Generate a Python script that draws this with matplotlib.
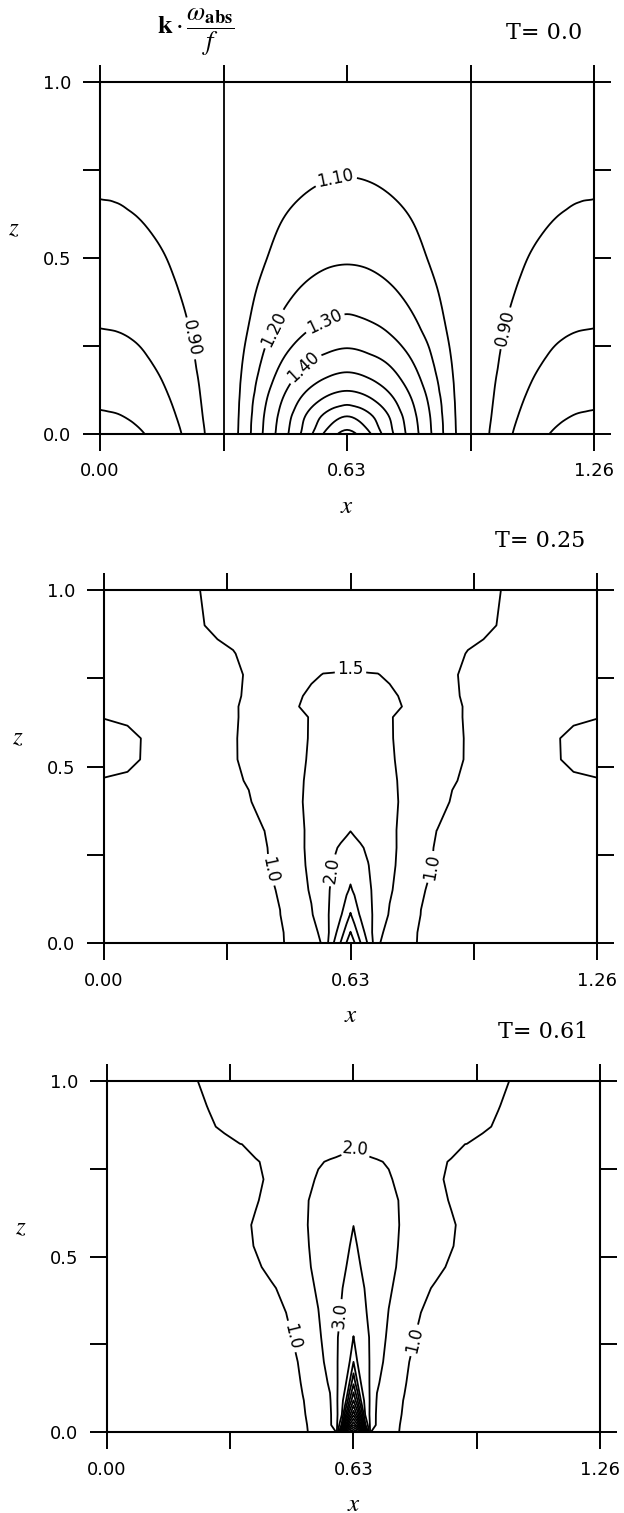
import numpy as np
import matplotlib
matplotlib.use("Agg")
import matplotlib.pyplot as plt
import matplotlib.tri as mtri
from matplotlib.ticker import FixedLocator

plt.rcParams['mathtext.fontset'] = 'stix'
plt.rcParams['font.family'] = ['DejaVu Sans']

# ---------------- data: k*omega_abs/f on half domain (x = 0 ... 0.63), symmetric about x = 0.63
# Panel 1 : T = 0.0
x_t0 = [0.0, 0.0525, 0.105, 0.1575, 0.21, 0.2625, 0.315, 0.3675, 0.42, 0.4725, 0.525, 0.5775, 0.63]
z_t0 = [0.0, 0.05, 0.1, 0.15, 0.2, 0.25, 0.3, 0.4, 0.5, 0.6, 0.7, 0.8, 0.9, 1.0]
f_t0 = [
    [0.660, 0.6685, 0.694, 0.738, 0.803, 0.891, 1.0, 1.146, 1.317, 1.476, 1.642, 1.825, 1.930],
    [0.690, 0.698, 0.721, 0.761, 0.820, 0.901, 1.0, 1.140, 1.306, 1.454, 1.605, 1.728, 1.800],
    [0.716, 0.723, 0.744, 0.781, 0.835, 0.909, 1.0, 1.132, 1.284, 1.416, 1.530, 1.614, 1.651],
    [0.739, 0.746, 0.765, 0.799, 0.849, 0.916, 1.0, 1.122, 1.252, 1.368, 1.457, 1.517, 1.544],
    [0.761, 0.767, 0.785, 0.816, 0.861, 0.924, 1.0, 1.110, 1.222, 1.321, 1.397, 1.438, 1.461],
    [0.780, 0.7855, 0.802, 0.831, 0.872, 0.930, 1.0, 1.097, 1.196, 1.277, 1.336, 1.375, 1.392],
    [0.800, 0.805, 0.820, 0.846, 0.884, 0.936, 1.0, 1.084, 1.167, 1.238, 1.290, 1.320, 1.337],
    [0.836, 0.840, 0.852, 0.874, 0.905, 0.948, 1.0, 1.0655, 1.1265, 1.179, 1.219, 1.244, 1.253],
    [0.863, 0.866, 0.877, 0.895, 0.921, 0.956, 1.0, 1.049, 1.095, 1.134, 1.165, 1.184, 1.190],
    [0.888, 0.891, 0.899, 0.914, 0.935, 0.964, 1.0, 1.039, 1.075, 1.106, 1.130, 1.145, 1.150],
    [0.905, 0.907, 0.9145, 0.927, 0.945, 0.970, 1.0, 1.0285, 1.055, 1.078, 1.095, 1.106, 1.110],
    [0.917, 0.919, 0.925, 0.936, 0.952, 0.973, 1.0, 1.021, 1.040, 1.057, 1.069, 1.077, 1.080],
    [0.924, 0.926, 0.932, 0.9415, 0.956, 0.976, 1.0, 1.017, 1.0325, 1.046, 1.056, 1.063, 1.065],
    [0.927, 0.929, 0.934, 0.944, 0.958, 0.977, 1.0, 1.0155, 1.030, 1.042, 1.052, 1.058, 1.060],
]
levels_t0 = [0.70, 0.80, 0.90, 1.00, 1.10, 1.20, 1.30, 1.40, 1.50, 1.60, 1.70, 1.80, 1.90]

# Panel 2 : T = 0.25
x_t25 = [0.0, 0.06, 0.12, 0.18, 0.24, 0.29, 0.33, 0.37, 0.41, 0.45, 0.49, 0.53, 0.56, 0.585, 0.605, 0.62, 0.63]
z_t25 = [0.0, 0.03, 0.08, 0.15, 0.22, 0.27, 0.32, 0.4, 0.46, 0.52, 0.58, 0.64, 0.67, 0.7, 0.76, 0.82, 0.9, 1.0]
f_t25 = [
    [0.80, 0.82, 0.84, 0.86, 0.88, 0.895, 0.91, 0.93, 0.94, 0.95, 1.144, 1.30, 1.55, 2.44, 3.03, 3.53, 3.80],
    [0.80, 0.82, 0.84, 0.86, 0.88, 0.895, 0.91, 0.93, 0.94, 0.95, 1.172, 1.35, 1.62, 2.266, 2.777, 3.21, 3.52],
    [0.80, 0.82, 0.84, 0.86, 0.88, 0.895, 0.91, 0.93, 0.96, 0.995, 1.23, 1.46, 1.80, 2.15, 2.45, 2.785, 3.04],
    [0.80, 0.82, 0.84, 0.86, 0.88, 0.895, 0.91, 0.94, 0.95, 1.02, 1.294, 1.548, 1.837, 2.08, 2.278, 2.427, 2.56],
    [0.80, 0.82, 0.84, 0.86, 0.88, 0.895, 0.91, 0.94, 0.95, 1.13, 1.348, 1.592, 1.823, 2.013, 2.14, 2.236, 2.30],
    [0.80, 0.82, 0.84, 0.86, 0.88, 0.895, 0.915, 0.945, 0.96, 1.163, 1.374, 1.60, 1.788, 1.944, 2.041, 2.097, 2.135],
    [0.80, 0.82, 0.84, 0.86, 0.88, 0.90, 0.93, 0.96, 1.001, 1.203, 1.40, 1.578, 1.70, 1.805, 1.887, 1.949, 1.99],
    [0.80, 0.82, 0.84, 0.86, 0.88, 0.90, 0.93, 0.975, 1.119, 1.278, 1.437, 1.578, 1.676, 1.758, 1.823, 1.872, 1.905],
    [0.99, 0.975, 0.93, 0.93, 0.94, 0.95, 0.96, 1.02, 1.172, 1.305, 1.437, 1.559, 1.643, 1.714, 1.77, 1.812, 1.84],
    [1.06, 1.035, 0.97, 0.95, 0.955, 0.962, 0.97, 1.078, 1.195, 1.311, 1.427, 1.536, 1.608, 1.668, 1.716, 1.752, 1.776],
    [1.06, 1.037, 0.972, 0.95, 0.955, 0.96, 0.97, 1.084, 1.197, 1.309, 1.421, 1.523, 1.58, 1.627, 1.665, 1.693, 1.712],
    [0.995, 0.975, 0.93, 0.92, 0.93, 0.945, 0.96, 1.076, 1.193, 1.31, 1.427, 1.519, 1.558, 1.59, 1.616, 1.635, 1.648],
    [0.90, 0.91, 0.92, 0.93, 0.94, 0.95, 0.965, 1.068, 1.203, 1.338, 1.473, 1.60, 1.605, 1.61, 1.613, 1.615, 1.616],
    [0.90, 0.91, 0.92, 0.93, 0.94, 0.95, 0.95, 1.046, 1.178, 1.309, 1.441, 1.57, 1.575, 1.578, 1.58, 1.582, 1.583],
    [0.90, 0.91, 0.92, 0.93, 0.94, 0.95, 0.955, 1.026, 1.132, 1.237, 1.342, 1.447, 1.51, 1.513, 1.516, 1.518, 1.52],
    [0.90, 0.91, 0.92, 0.935, 0.95, 0.97, 0.99, 1.053, 1.114, 1.175, 1.236, 1.297, 1.343, 1.381, 1.412, 1.435, 1.45],
    [0.90, 0.92, 0.94, 0.96, 0.985, 1.029, 1.07, 1.112, 1.153, 1.194, 1.236, 1.277, 1.308, 1.334, 1.354, 1.37, 1.38],
    [0.90, 0.92, 0.94, 0.96, 0.995, 1.04, 1.074, 1.108, 1.142, 1.177, 1.211, 1.245, 1.27, 1.292, 1.309, 1.321, 1.33],
]
levels_t25 = [1.0, 1.5, 2.0, 2.5, 3.0, 3.5]

# Panel 3 : T = 0.61
x_t61 = [0.0, 0.08, 0.16, 0.22, 0.26, 0.3, 0.34, 0.38, 0.42, 0.46, 0.5, 0.54, 0.57, 0.585, 0.6, 0.61, 0.62, 0.63]
z_t61 = [0.0, 0.02, 0.05, 0.09, 0.14, 0.2, 0.27, 0.34, 0.41, 0.47, 0.53, 0.59, 0.66, 0.72, 0.77, 0.82, 0.87, 0.93, 1.0]
f_t61 = [
    [0.8, 0.831, 0.862, 0.886, 0.901, 0.917, 0.933, 0.948, 0.964, 0.979, 0.995, 1.01, 1.79, 1.99, 8.0, 17.05, 17.5, 18.0],
    [0.8, 0.831, 0.863, 0.886, 0.902, 0.917, 0.933, 0.949, 0.964, 0.98, 0.996, 1.01, 1.9, 2.4, 5.24, 10.08, 13.22, 14.9],
    [0.8, 0.832, 0.863, 0.887, 0.903, 0.918, 0.934, 0.95, 0.966, 0.981, 0.997, 1.014, 1.86, 2.63, 3.95, 6.82, 9.67, 11.7],
    [0.8, 0.832, 0.864, 0.887, 0.903, 0.919, 0.935, 0.951, 0.967, 0.983, 0.999, 1.012, 1.93, 2.77, 3.67, 4.76, 7.06, 9.0],
    [0.8, 0.832, 0.865, 0.889, 0.905, 0.921, 0.937, 0.954, 0.97, 0.986, 1.002, 1.62, 2.095, 2.81, 3.47, 3.89, 5.04, 6.83],
    [0.8, 0.833, 0.866, 0.89, 0.907, 0.923, 0.939, 0.956, 0.972, 0.989, 1.005, 1.71, 2.32, 2.86, 3.35, 3.67, 3.98, 5.0],
    [0.8, 0.834, 0.868, 0.893, 0.91, 0.927, 0.944, 0.961, 0.978, 0.9945, 1.0114, 1.85, 2.47, 2.87, 3.25, 3.5, 3.76, 4.01],
    [0.8, 0.835, 0.87, 0.896, 0.914, 0.931, 0.948, 0.966, 0.983, 1.001, 1.5, 1.98, 2.51, 2.78, 3.07, 3.31, 3.55, 3.79],
    [0.8, 0.837, 0.874, 0.902, 0.92, 0.939, 0.957, 0.976, 0.994, 1.014, 1.67, 2.1, 2.527, 2.74, 2.96, 3.15, 3.36, 3.57],
    [0.8, 0.841, 0.881, 0.911, 0.932, 0.952, 0.972, 0.992, 1.013, 1.5, 1.81, 2.17, 2.51, 2.68, 2.85, 2.97, 3.16, 3.38],
    [0.8, 0.843, 0.886, 0.918, 0.939, 0.96, 0.982, 1.003, 1.315, 1.59, 1.863, 2.2, 2.49, 2.64, 2.79, 2.89, 2.99, 3.19],
    [0.8, 0.843, 0.887, 0.92, 0.941, 0.963, 0.985, 1.006, 1.354, 1.626, 1.898, 2.21, 2.47, 2.6, 2.73, 2.82, 2.9, 2.99],
    [0.8, 0.841, 0.882, 0.913, 0.934, 0.955, 0.975, 0.996, 1.016, 1.58, 1.9, 2.16, 2.33, 2.41, 2.5, 2.56, 2.61, 2.67],
    [0.8, 0.84, 0.88, 0.91, 0.93, 0.95, 0.97, 0.99, 1.01, 1.48, 1.8, 2.06, 2.17, 2.23, 2.29, 2.32, 2.36, 2.4],
    [0.8, 0.841, 0.882, 0.913, 0.933, 0.954, 0.974, 0.995, 1.015, 1.446, 1.70, 1.955, 2.044, 2.073, 2.10, 2.12, 2.14, 2.16],
    [0.8, 0.846, 0.893, 0.928, 0.951, 0.974, 0.997, 1.021, 1.171, 1.321, 1.472, 1.622, 1.735, 1.79, 1.847, 1.885, 1.922, 1.96],
    [0.8, 0.858, 0.915, 0.958, 0.987, 1.016, 1.117, 1.218, 1.319, 1.42, 1.521, 1.622, 1.698, 1.736, 1.774, 1.799, 1.825, 1.85],
    [0.8, 0.863, 0.925, 0.973, 1.004, 1.082, 1.161, 1.239, 1.318, 1.396, 1.475, 1.553, 1.612, 1.642, 1.671, 1.691, 1.71, 1.73],
    [0.8, 0.869, 0.938, 0.99, 1.023, 1.091, 1.159, 1.227, 1.294, 1.362, 1.43, 1.498, 1.548, 1.574, 1.599, 1.616, 1.633, 1.65],
]
levels_t61 = [1.0, 2.0, 3.0, 4.0, 5.0, 6.0, 7.0, 8.0, 9.0, 10.0, 11.0, 12.0, 13.0, 14.0, 15.0, 16.0, 17.0]

titles = ['T= 0.0', 'T= 0.25', 'T= 0.61']
x_ticks = [0.0, 0.63, 1.26]
x_ticklabels = ['0.00', '0.63', '1.26']
x_minor = [0.315, 0.945]
z_ticks = [0.0, 0.5, 1.0]
z_ticklabels = ['0.0', '0.5', '1.0']
z_minor = [0.25, 0.75]


def mirror(x_half, f_half):
    xh = np.asarray(x_half, float)
    fh = np.asarray(f_half, float)
    x = np.concatenate([xh, 2 * xh[-1] - xh[-2::-1]])
    f = np.hstack([fh, fh[:, -2::-1]])
    return x, f


def grid_triangulation(x, z):
    """Triangulate a rectangular grid with diagonals mirrored about the centre column."""
    nx, nz = len(x), len(z)
    X, Z = np.meshgrid(x, z)
    tris = []
    for j in range(nz - 1):
        for i in range(nx - 1):
            a = j * nx + i
            b = a + 1
            d = a + nx
            c = d + 1
            if i < (nx - 1) // 2:
                tris += [[a, b, c], [a, c, d]]
            else:
                tris += [[a, b, d], [b, c, d]]
    return mtri.Triangulation(X.ravel(), Z.ravel(), np.array(tris))


def style_axes(ax, title):
    ax.set_xlim(0, 1.26)
    ax.set_ylim(0, 1)
    ax.xaxis.set_major_locator(FixedLocator(x_ticks))
    ax.xaxis.set_minor_locator(FixedLocator(x_minor))
    ax.yaxis.set_major_locator(FixedLocator(z_ticks))
    ax.yaxis.set_minor_locator(FixedLocator(z_minor))
    ax.set_xticklabels(x_ticklabels)
    ax.set_yticklabels(z_ticklabels)
    ax.tick_params(which='both', direction='out', length=12.5, width=1.4,
                   top=True, right=True, labelsize=13, pad=8)
    for s in ax.spines.values():
        s.set_linewidth(1.5)
    ax.set_xlabel('$x$', fontsize=18)
    ax.xaxis.set_label_coords(0.5, -0.17)
    ax.set_ylabel('$z$', fontsize=18, rotation=0)
    ax.yaxis.set_label_coords(-0.175, 0.55)
    ax.text(0.976, 1.14, title, transform=ax.transAxes, ha='right', va='center',
            fontsize=16, family='DejaVu Serif')


fig = plt.figure(figsize=(6.24, 15.13), dpi=100)
ax1 = fig.add_axes([0.1603, 0.7132, 0.7917, 0.2327])
ax2 = fig.add_axes([0.1667, 0.3767, 0.7900, 0.2333])
ax3 = fig.add_axes([0.1715, 0.0535, 0.7900, 0.2320])

lw = 1.3

# Panel 1 (smooth field -> refined triangulation); the 1.00 line is the exact grid column
x, f = mirror(x_t0, f_t0)
tri = grid_triangulation(x, z_t0)
interp = mtri.CubicTriInterpolator(tri, f.ravel(), kind='geom')
tri_r, f_r = mtri.UniformTriRefiner(tri).refine_field(f.ravel(), triinterpolator=interp, subdiv=3)
lev_smooth = [v for v in levels_t0 if abs(v - 1.0) > 1e-9]
cs1 = ax1.tricontour(tri_r, f_r, levels=lev_smooth, colors='k', linewidths=lw)
ax1.tricontour(tri, f.ravel(), levels=[1.0], colors='k', linewidths=lw)
ax1.clabel(cs1, manual=[(0.226, 0.27), (1.034, 0.30), (0.60, 0.73), (0.459, 0.29), (0.578, 0.305), (0.531, 0.177)],
           fmt='%.2f', fontsize=12, inline=True, inline_spacing=3)
style_axes(ax1, titles[0])
ax1.text(0.194, 1.14, r'$\mathbf{k}\cdot\dfrac{\omega_{\mathbf{abs}}}{f}$', transform=ax1.transAxes,
         ha='center', va='center', fontsize=19)

# Panel 2
x, f = mirror(x_t25, f_t25)
cs2 = ax2.contour(x, z_t25, f, levels=levels_t25, colors='k', linewidths=lw)
ax2.clabel(cs2, manual=[(0.424, 0.207), (0.835, 0.216), (0.63, 0.778), (0.577, 0.207)],
           fmt='%.1f', fontsize=12, inline=True, inline_spacing=3)
style_axes(ax2, titles[1])

# Panel 3
x, f = mirror(x_t61, f_t61)
cs3 = ax3.contour(x, z_t61, f, levels=levels_t61, colors='k', linewidths=lw)
ax3.clabel(cs3, manual=[(0.471, 0.272), (0.79, 0.26), (0.63, 0.80), (0.593, 0.333)],
           fmt='%.1f', fontsize=12, inline=True, inline_spacing=3)
style_axes(ax3, titles[2])

fig.savefig('out.png', dpi=100)
